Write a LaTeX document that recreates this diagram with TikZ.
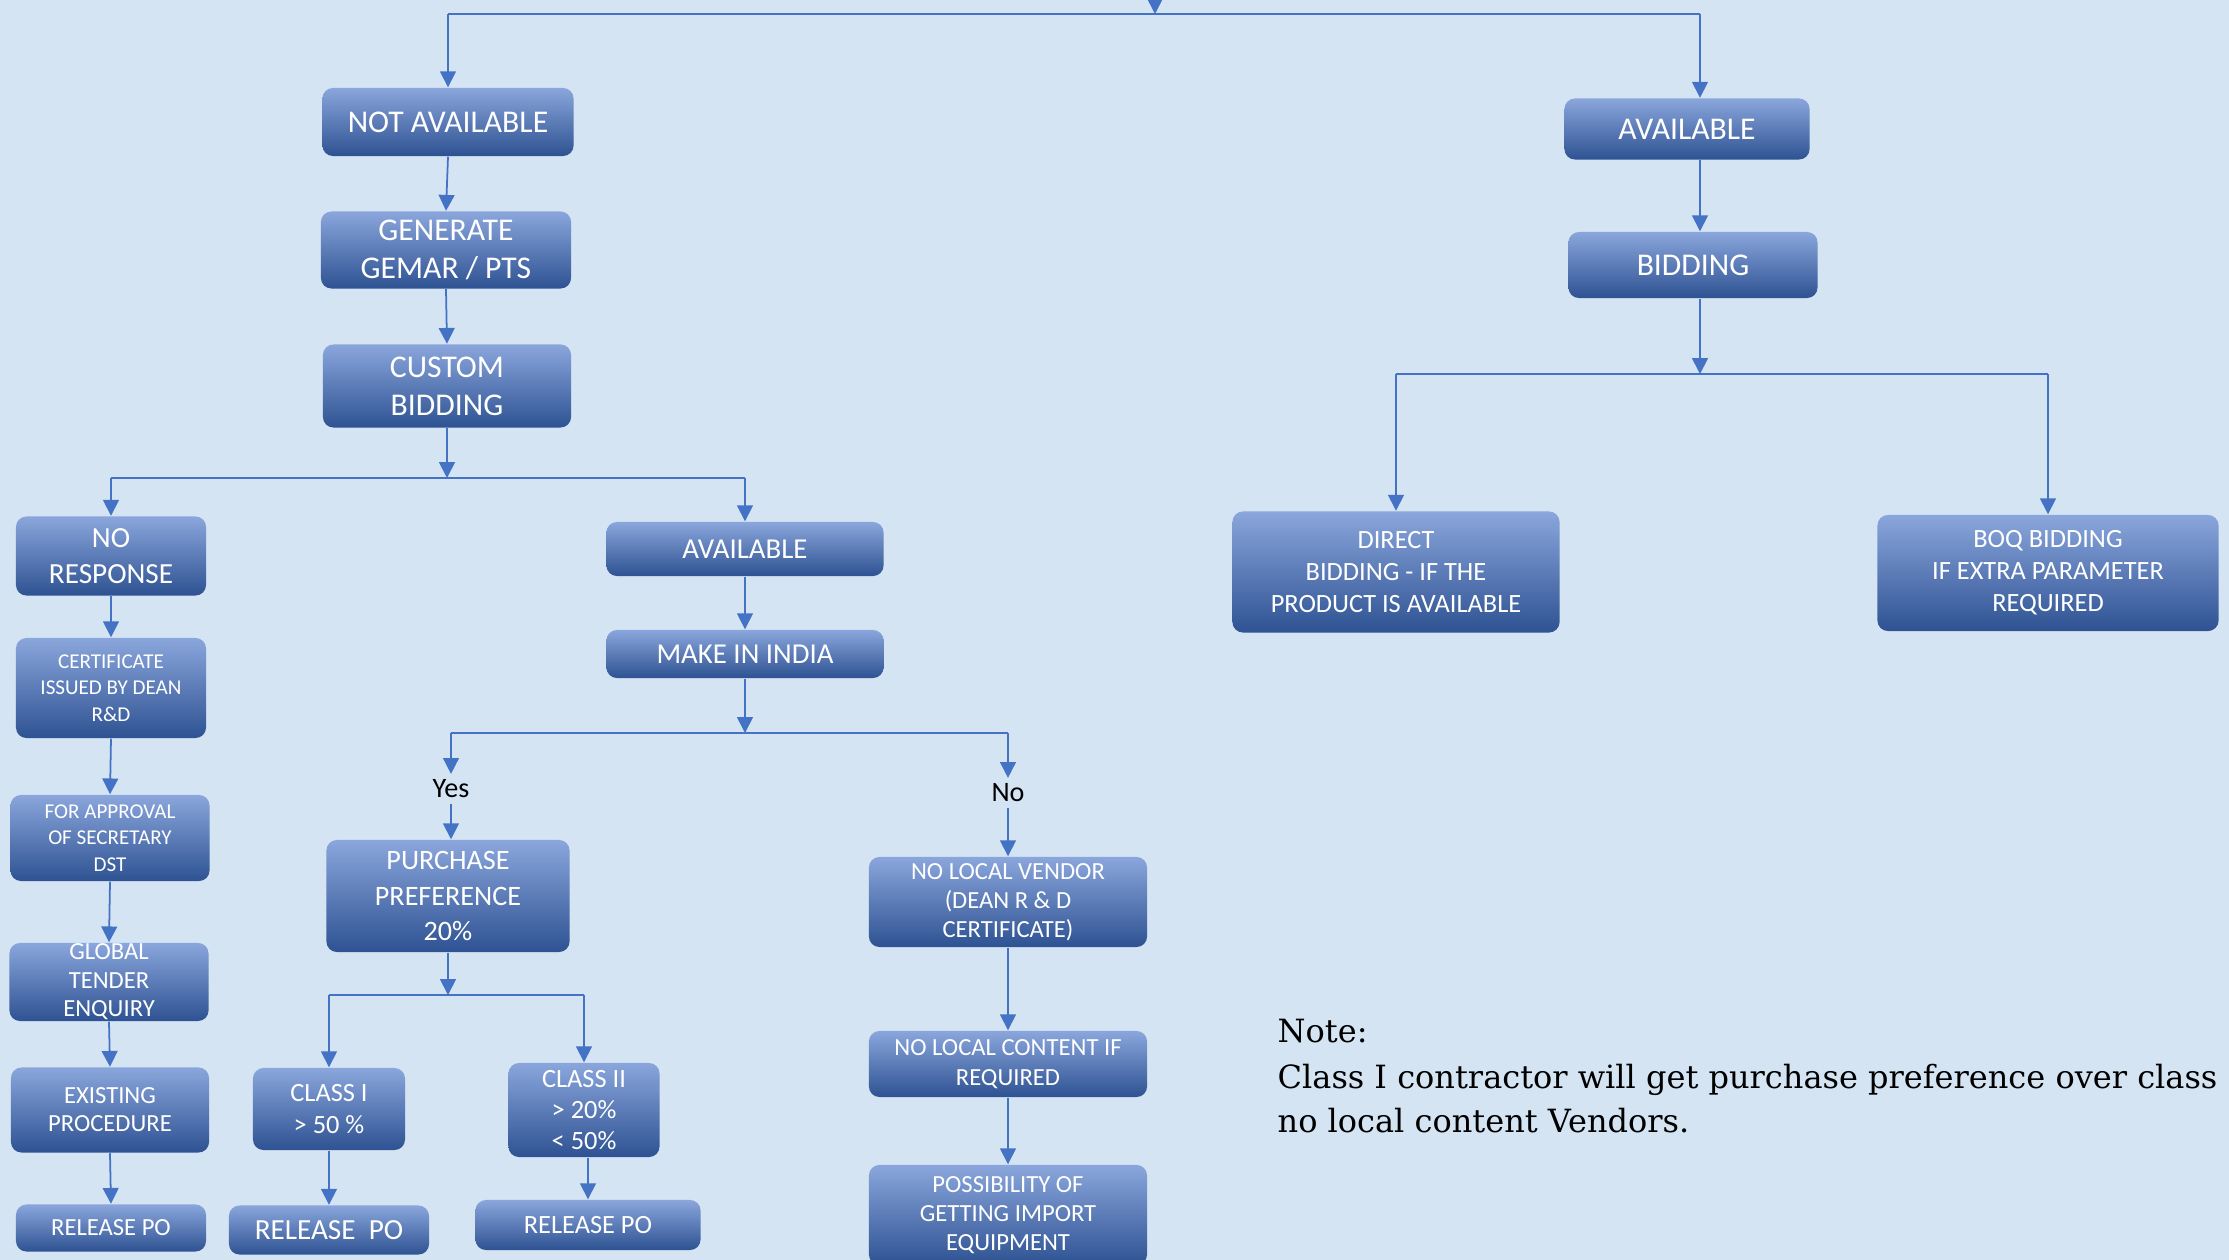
\documentclass[tikz,border=0pt]{standalone}
\usepackage{fontspec}
\setmainfont{Carlito}
\newfontfamily\notefont{DejaVu Serif}
\usetikzlibrary{arrows.meta,calc}
\definecolor{bgblue}{RGB}{212,228,243}
\definecolor{boxtop}{RGB}{138,166,220}
\definecolor{boxmid}{RGB}{74,120,201}
\definecolor{boxbot}{RGB}{46,82,146}
\definecolor{linkblue}{RGB}{68,114,196}
\newcommand{\bxf}[2]{\fontsize{#1}{#2}\selectfont}
\tikzset{
  blk/.style={rounded corners=3pt, top color=boxtop, middle color=boxmid,
    bottom color=boxbot, text=white, align=center, inner sep=0pt},
  arr/.style={draw=linkblue, line width=0.5pt, -{Triangle[width=4.5pt,length=4.5pt]}},
  lnk/.style={draw=linkblue, line width=0.5pt},
  lbl/.style={text=black, inner sep=1.5pt, font=\bxf{8}{9}},
}

\begin{document}
\begin{tikzpicture}[x=0.01cm,y=-0.01cm]
\useasboundingbox (0,0) rectangle (2229,1260);
\fill[bgblue] (0,0) rectangle (2229,1260);

% left branch: not available
\node[blk, minimum width=2.51cm, minimum height=0.68cm, font=\bxf{9}{11}] (notav) at (448,122) {NOT AVAILABLE};
\node[blk, minimum width=2.50cm, minimum height=0.77cm, font=\bxf{9}{10.9}] (gemar) at (446,250) {GENERATE\\GEMAR / PTS};
\node[blk, minimum width=2.48cm, minimum height=0.83cm, font=\bxf{9}{10.9}] (custom) at (447,386) {CUSTOM\\BIDDING};

\node[blk, minimum width=1.90cm, minimum height=0.79cm, font=\bxf{8.3}{10.1}] (noresp) at (111,556) {NO\\RESPONSE};
\node[blk, minimum width=1.90cm, minimum height=1.00cm, font=\bxf{6}{7.5}] (cert) at (111,688) {CERTIFICATE\\ISSUED BY DEAN\\R\&D};
\node[blk, minimum width=1.99cm, minimum height=0.86cm, font=\bxf{6}{7.5}] (appr) at (110,838) {FOR APPROVAL\\OF SECRETARY\\DST};
\node[blk, minimum width=1.99cm, minimum height=0.78cm, font=\bxf{7}{8.1}] (global) at (109,982) {GLOBAL\\TENDER\\ENQUIRY};
\node[blk, minimum width=1.98cm, minimum height=0.85cm, font=\bxf{7}{8}] (exist) at (110,1110) {EXISTING\\PROCEDURE};
\node[blk, minimum width=1.90cm, minimum height=0.47cm, font=\bxf{7}{8}] (relL) at (111,1228) {RELEASE PO};

\node[blk, minimum width=2.77cm, minimum height=0.54cm, font=\bxf{8.2}{10}] (avmid) at (745,549) {AVAILABLE};
\node[blk, minimum width=2.77cm, minimum height=0.48cm, font=\bxf{8.2}{10}] (mii) at (745,654) {MAKE IN INDIA};

\node[lbl] (yes) at (451,789) {Yes};
\node[lbl] (no) at (1008,793) {No};

\node[blk, minimum width=2.43cm, minimum height=1.12cm, font=\bxf{8}{10}] (purch) at (448,896) {PURCHASE\\PREFERENCE\\20\%};
\node[blk, minimum width=1.52cm, minimum height=0.82cm, font=\bxf{7.5}{9.3}] (cls1) at (329,1109) {CLASS I\\> 50 \%};
\node[blk, minimum width=1.51cm, minimum height=0.94cm, font=\bxf{7.5}{8.8}] (cls2) at (584,1110) {CLASS II\\> 20\%\\< 50\%};
\node[blk, minimum width=2.00cm, minimum height=0.49cm, font=\bxf{8.3}{10}] (relM) at (329,1230) {RELEASE\ \ PO};
\node[blk, minimum width=2.25cm, minimum height=0.50cm, font=\bxf{7.5}{9}] (relR) at (588,1225) {RELEASE PO};

\node[blk, minimum width=2.78cm, minimum height=0.90cm, font=\bxf{7}{8.2}] (nlv) at (1008,902) {NO LOCAL VENDOR\\(DEAN R \& D\\CERTIFICATE)};
\node[blk, minimum width=2.78cm, minimum height=0.66cm, font=\bxf{7}{8.5}] (nlc) at (1008,1064) {NO LOCAL CONTENT IF\\REQUIRED};
\node[blk, minimum width=2.78cm, minimum height=1.00cm, font=\bxf{7}{8.3}] (poss) at (1008,1215) {POSSIBILITY OF\\GETTING IMPORT\\EQUIPMENT};

% right branch: available
\node[blk, minimum width=2.45cm, minimum height=0.61cm, font=\bxf{9}{11}] (avR) at (1687,129) {AVAILABLE};
\node[blk, minimum width=2.49cm, minimum height=0.66cm, font=\bxf{9}{11}] (bid) at (1693,265) {BIDDING};
\node[blk, minimum width=3.27cm, minimum height=1.21cm, font=\bxf{7.5}{9.1}] (direct) at (1396,572) {DIRECT\\BIDDING - IF THE\\PRODUCT IS AVAILABLE};
\node[blk, minimum width=3.41cm, minimum height=1.16cm, font=\bxf{7.5}{9.1}] (boq) at (2048,573) {BOQ BIDDING\\IF EXTRA PARAMETER\\REQUIRED};

% note
\node[anchor=base west, inner sep=0pt, font=\notefont\bxf{9.1}{12}] (note1) at (1277,1042) {Note:};
\node[anchor=base west, inner sep=0pt, font=\notefont\bxf{9.1}{12}] (note2) at (1277,1088) {Class I contractor will get purchase preference over class};
\node[anchor=base west, inner sep=0pt, font=\notefont\bxf{9.1}{12}] (note3) at (1277,1132) {no local content Vendors.};

% split points
\coordinate (topin) at (1155,-10);
\coordinate (s0) at (1155,14);
\coordinate (s1) at (447,478);
\coordinate (s2) at (1700,374);
\coordinate (s3) at (745,733);
\coordinate (s4) at (448,995);

% connectors
\draw[arr] (topin) -- (s0);
\draw[lnk] (notav.north |- s0) -- (s2 |- s0);
\draw[arr] (notav.north |- s0) -- (notav.north);
\draw[arr] (s2 |- s0) -- (s2 |- avR.north);
\draw[arr] (s2 |- avR.south) -- (s2 |- bid.north);

\foreach \a/\b in {notav/gemar, gemar/custom, noresp/cert, cert/appr, appr/global,
  global/exist, exist/relL, avmid/mii, cls1/relM, nlv/nlc, nlc/poss, no/nlv}
  \draw[arr] (\a.south) -- (\b.north);
\draw[arr] (yes.south) -- (yes.south |- purch.north);
\draw[arr] (relR.north |- cls2.south) -- (relR.north);

\draw[arr] (custom.south) -- (s1);
\draw[lnk] (noresp.north |- s1) -- (avmid.north |- s1);
\draw[arr] (noresp.north |- s1) -- (noresp.north);
\draw[arr] (avmid.north |- s1) -- (avmid.north);

\draw[arr] (s2 |- bid.south) -- (s2);
\draw[lnk] (direct.north |- s2) -- (boq.north |- s2);
\draw[arr] (direct.north |- s2) -- (direct.north);
\draw[arr] (boq.north |- s2) -- (boq.north);

\draw[arr] (mii.south) -- (s3);
\draw[lnk] (yes.north |- s3) -- (no.north |- s3);
\draw[arr] (yes.north |- s3) -- (yes.north);
\draw[arr] (no.north |- s3) -- (no.north);

\draw[arr] (purch.south) -- (s4);
\draw[lnk] (cls1.north |- s4) -- (cls2.north |- s4);
\draw[arr] (cls1.north |- s4) -- (cls1.north);
\draw[arr] (cls2.north |- s4) -- (cls2.north);
\end{tikzpicture}
\end{document}
